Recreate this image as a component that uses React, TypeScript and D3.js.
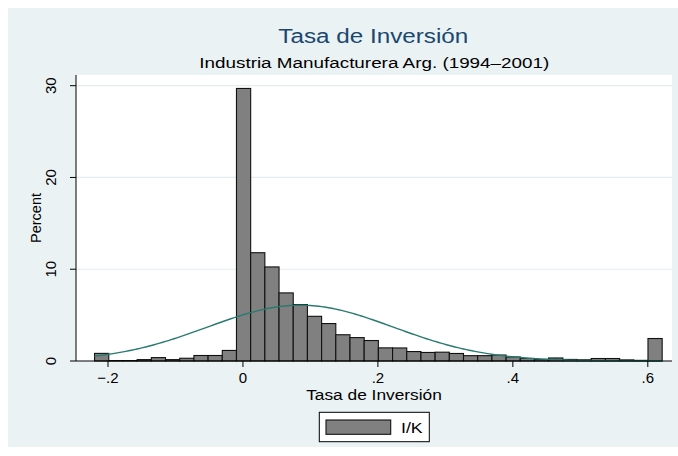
import React from "react";
import * as d3 from "d3";

// ---- data ----
const binStart = -0.2199;
const binWidth = 0.02103;
const percents = [
  0.83, 0.05, 0.05, 0.15, 0.37, 0.15, 0.3, 0.6, 0.6, 1.15,
  29.7, 11.8, 10.25, 7.42, 6.15, 4.87, 4.08, 2.86, 2.55, 2.23,
  1.43, 1.42, 1.03, 0.93, 0.96, 0.82, 0.58, 0.58, 0.65, 0.44,
  0.28, 0.18, 0.33, 0.17, 0.13, 0.27, 0.27, 0.12, 0.07, 2.45,
];
const normalMean = 0.085;
const normalSd = 0.138;
const xTicks = [-0.2, 0, 0.2, 0.4, 0.6];
const xTickLabels = ["\u2212.2", "0", ".2", ".4", ".6"];
const yTicks = [0, 10, 20, 30];
const yTickLabels = ["0", "10", "20", "30"];
const title = "Tasa de Inversi\u00f3n";
const subtitle = "Industria Manufacturera Arg. (1994\u20132001)";
const xTitle = "Tasa de Inversi\u00f3n";
const yTitle = "Percent";
const legendLabel = "I/K";

const W = 678;
const H = 456;
const plot = { left: 76, right: 672, top: 75, bottom: 361 };
const BG = "#EAF2F3";
const FONT = "'Liberation Sans', Arial, Helvetica, sans-serif";

export default function App() {
  const x = d3.scaleLinear().domain([-0.2, 0.6]).range([108.0, 647.8]);
  const y = d3.scaleLinear().domain([0, 30]).range([plot.bottom, 85.7]);

  const bins = percents.map((p, i) => ({
    x0: binStart + i * binWidth,
    x1: binStart + (i + 1) * binWidth,
    p,
  }));

  const xMin = binStart;
  const xMax = binStart + percents.length * binWidth;
  const normalPts = d3.range(0, 201).map((k) => {
    const v = xMin + ((xMax - xMin) * k) / 200;
    const z = (v - normalMean) / normalSd;
    const dens = Math.exp(-0.5 * z * z) / (normalSd * Math.sqrt(2 * Math.PI));
    return [v, 100 * binWidth * dens] as [number, number];
  });
  const line = d3
    .line<[number, number]>()
    .x((d) => x(d[0]))
    .y((d) => y(d[1]))
    .curve(d3.curveBasis);

  const cx = (plot.left + plot.right) / 2;
  const cy = (plot.top + plot.bottom) / 2;

  return (
    <svg
      width={W}
      height={H}
      style={{ position: "absolute", left: 0, top: 0, display: "block" }}
      fontFamily={FONT}
    >
      <rect x={0} y={0} width={W} height={H} fill="#ffffff" />
      <rect x={8} y={8} width={W - 8} height={447 - 8} fill={BG} />
      <rect
        x={plot.left}
        y={plot.top}
        width={plot.right - plot.left}
        height={plot.bottom - plot.top}
        fill="#ffffff"
      />
      {/* gridlines */}
      {yTicks
        .filter((t) => t > 0)
        .map((t) => (
          <line
            key={"g" + t}
            x1={plot.left}
            x2={plot.right}
            y1={y(t)}
            y2={y(t)}
            stroke="#E3ECEE"
            strokeWidth={1.2}
          />
        ))}
      {/* bars */}
      {bins.map((b, i) => (
        <rect
          key={"b" + i}
          x={x(b.x0)}
          y={y(b.p)}
          width={x(b.x1) - x(b.x0)}
          height={plot.bottom - y(b.p)}
          fill="#808080"
          stroke="#111"
          strokeWidth={1.1}
        />
      ))}
      {/* normal curve */}
      <path d={line(normalPts) || ""} fill="none" stroke="#2A7A70" strokeWidth={1.4} />
      {/* axes */}
      <line x1={plot.left} x2={plot.left} y1={plot.top} y2={plot.bottom} stroke="#000" strokeWidth={1} />
      <line x1={plot.left} x2={plot.right} y1={plot.bottom} y2={plot.bottom} stroke="#000" strokeWidth={1} />
      {yTicks.map((t, i) => (
        <g key={"yt" + t}>
          <line x1={plot.left - 6} x2={plot.left} y1={y(t)} y2={y(t)} stroke="#000" strokeWidth={1} />
          <text
            x={56}
            y={y(t)}
            transform={`rotate(-90, 56, ${y(t)})`}
            textAnchor="middle"
            fontSize={15}
            fill="#000"
          >
            {yTickLabels[i]}
          </text>
        </g>
      ))}
      {xTicks.map((t, i) => (
        <g key={"xt" + t}>
          <line x1={x(t)} x2={x(t)} y1={plot.bottom} y2={plot.bottom + 6} stroke="#000" strokeWidth={1} />
          <text x={x(t)} y={382.5} textAnchor="middle" fontSize={15} fill="#000">
            {xTickLabels[i]}
          </text>
        </g>
      ))}
      {/* axis titles */}
      <text
        x={cx}
        y={399.5}
        textAnchor="middle"
        fontSize={15.5}
        textLength={135.7}
        lengthAdjust="spacingAndGlyphs"
        fill="#000"
      >
        {xTitle}
      </text>
      <text
        x={41}
        y={cy}
        transform={`rotate(-90, 41, ${cy})`}
        textAnchor="middle"
        fontSize={14.5}
        fill="#000"
      >
        {yTitle}
      </text>
      {/* titles */}
      <text
        x={373.3}
        y={43.3}
        textAnchor="middle"
        fontSize={19.5}
        textLength={190}
        lengthAdjust="spacingAndGlyphs"
        fill="#1A476F"
      >
        {title}
      </text>
      <text
        x={374.3}
        y={68.3}
        textAnchor="middle"
        fontSize={15.5}
        textLength={350}
        lengthAdjust="spacingAndGlyphs"
        fill="#000"
      >
        {subtitle}
      </text>
      {/* legend */}
      <rect x={319.3} y={412.3} width={110} height={29.4} fill="#ffffff" stroke="#000" strokeWidth={1} />
      <rect x={326} y={420} width={64.7} height={14.3} fill="#808080" stroke="#111" strokeWidth={1.1} />
      <text
        x={401}
        y={432.8}
        fontSize={15}
        textLength={21.7}
        lengthAdjust="spacingAndGlyphs"
        fill="#000"
      >
        {legendLabel}
      </text>
    </svg>
  );
}
